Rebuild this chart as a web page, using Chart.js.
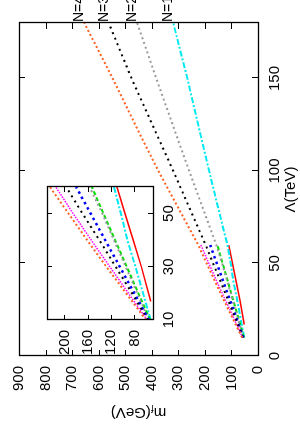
<!DOCTYPE html>
<html>
<head>
<meta charset="utf-8">
<script src="https://cdn.jsdelivr.net/npm/chart.js@4/dist/chart.umd.min.js"></script>
<style>
  html, body { margin: 0; padding: 0; background: #fff; overflow: hidden; }
  #wrap { position: absolute; left: 0; top: 0; width: 427px; height: 300px;
          transform-origin: 0 0; transform: translate(0px, 427px) rotate(-90deg); background: #fff; }
  #main { position: absolute; left: 0; top: 0; }
  #inset { position: absolute; left: 70px; top: 28px; }
</style>
</head>
<body>
<div id="wrap">
  <canvas id="main" width="427" height="300"></canvas>
  <canvas id="inset" width="175" height="152"></canvas>
</div>
<script>
// ---- data ----
const lambdaLong  = [10, 20, 30, 40, 50, 60, 80, 100, 120, 150, 180];
const lambdaShort = [10, 20, 30, 40, 50, 60];
const lambdaRed   = [17, 30, 40, 50, 60];

const n4Orange = [60, 94, 128, 161, 193, 225, 300, 375, 445, 547, 654];
const n3Black  = [57, 84, 112, 140, 169, 197, 258, 319, 382, 476, 562];
const n2Gray   = [55, 75, 95, 115, 135, 157, 208, 259, 309, 383, 455];
const n1Cyan   = [52, 65, 78, 92, 103, 115, 150, 184, 217, 266, 319];
const magentaM = [58, 90, 122, 154, 185, 215];
const blueM    = [55, 80, 105, 130, 155, 180];
const greenM   = [53, 73, 93, 113, 133, 153];
const redM     = [52, 68, 82, 96, 110];

const nLabels = ['N=4', 'N=3', 'N=2', 'N=1'];

const mainXTicks  = [0, 50, 100, 150];
const mainYTicks  = [0, 100, 200, 300, 400, 500, 600, 700, 800, 900];
const insetXTicks = [10, 30, 50];
const insetYTicks = [80, 120, 160, 200];

// ---- styling ----
const FONT = '"Liberation Sans Narrow", "Arial Narrow", "Liberation Sans", Arial, sans-serif';
const tickFont = { family: FONT, size: 15 };

function pts(xs, ys) { return xs.map((x, i) => ({ x: x, y: ys[i] })); }

function makeDatasets() {
  const base = { pointRadius: 0, fill: false, tension: 0, borderCapStyle: 'butt' };
  return [
    Object.assign({}, base, { label: 'N=4', data: pts(lambdaLong, n4Orange), borderColor: '#ff6020', borderWidth: 2, borderDash: [2, 2.5] }),
    Object.assign({}, base, { label: 'magenta', data: pts(lambdaShort, magentaM), borderColor: '#ff00ff', borderWidth: 1.5, borderDash: [1.5, 1.2] }),
    Object.assign({}, base, { label: 'N=3', data: pts(lambdaLong, n3Black), borderColor: '#000000', borderWidth: 2, borderDash: [2, 4] }),
    Object.assign({}, base, { label: 'blue', data: pts(lambdaShort, blueM), borderColor: '#0000ff', borderWidth: 2.5, borderDash: [2.5, 3.5] }),
    Object.assign({}, base, { label: 'N=2', data: pts(lambdaLong, n2Gray), borderColor: '#999999', borderWidth: 2, borderDash: [2, 3] }),
    Object.assign({}, base, { label: 'green', data: pts(lambdaShort, greenM), borderColor: '#00dd00', borderWidth: 2, borderDash: [4, 2.5] }),
    Object.assign({}, base, { label: 'N=1', data: pts(lambdaLong, n1Cyan), borderColor: '#00e8f0', borderWidth: 2, borderDash: [6, 2, 2, 2] }),
    Object.assign({}, base, { label: 'red', data: pts(lambdaRed, redM), borderColor: '#ff0000', borderWidth: 1.5 })
  ];
}

function framePlugin(tickLen, xTicks, yTicks, whiteBg) {
  return {
    id: 'frame' + tickLen,
    beforeDraw(chart) {
      if (!whiteBg) return;
      const a = chart.chartArea, c = chart.ctx;
      c.save(); c.fillStyle = '#fff';
      c.fillRect(a.left, a.top, a.right - a.left, a.bottom - a.top);
      c.restore();
    },
    afterDraw(chart) {
      const a = chart.chartArea, c = chart.ctx;
      const xs = chart.scales.x, ys = chart.scales.y;
      c.save();
      c.strokeStyle = '#000'; c.lineWidth = 1;
      c.beginPath();
      xTicks.forEach(v => {
        const p = Math.round(xs.getPixelForValue(v)) + 0.5;
        c.moveTo(p, a.bottom); c.lineTo(p, a.bottom - tickLen);
        c.moveTo(p, a.top); c.lineTo(p, a.top + tickLen);
      });
      yTicks.forEach(v => {
        const p = Math.round(ys.getPixelForValue(v)) + 0.5;
        c.moveTo(a.left, p); c.lineTo(a.left + tickLen, p);
        c.moveTo(a.right, p); c.lineTo(a.right - tickLen, p);
      });
      c.stroke();
      c.lineWidth = 1.3;
      c.strokeRect(Math.round(a.left) + 0.5, Math.round(a.top) + 0.5,
                   Math.round(a.right - a.left), Math.round(a.bottom - a.top));
      c.restore();
    }
  };
}

const titlesPlugin = {
  id: 'titles',
  afterDraw(chart) {
    const a = chart.chartArea, c = chart.ctx;
    const ys = chart.scales.y;
    c.save();
    c.fillStyle = '#000';
    c.font = '15px ' + FONT;
    // x title
    c.textAlign = 'center'; c.textBaseline = 'middle';
    c.fillText('Λ(TeV)', (a.left + a.right) / 2, 291);
    // y title with subscript
    c.translate(15, (a.top + a.bottom) / 2);
    c.rotate(-Math.PI / 2);
    c.textAlign = 'left'; c.textBaseline = 'middle';
    const big = '15px ' + FONT, small = '10px ' + FONT;
    c.font = big; const w1 = c.measureText('m').width;
    c.font = small; const w2 = c.measureText('f').width;
    c.font = big; const w3 = c.measureText('(GeV)').width;
    let x0 = -(w1 + w2 + w3) / 2;
    c.font = big; c.fillText('m', x0, 0);
    c.font = small; c.fillText('f', x0 + w1, 4);
    c.font = big; c.fillText('(GeV)', x0 + w1 + w2, 0);
    c.restore();
    // N labels at the ends of the long curves
    c.save();
    c.fillStyle = '#000';
    c.font = '14px ' + FONT;
    c.textAlign = 'left'; c.textBaseline = 'alphabetic';
    const ends = [n4Orange, n3Black, n2Gray, n1Cyan];
    nLabels.forEach((t, i) => {
      const arr = ends[i];
      const yv = arr[arr.length - 1];
      c.fillText(t, a.right + 1, ys.getPixelForValue(yv) - 1);
    });
    c.restore();
  }
};

function scaleOpts(min, max, tickArr, fitKey, fitVal, pad) {
  return {
    type: 'linear', min: min, max: max,
    grid: { display: false, drawTicks: false },
    border: { display: false },
    afterBuildTicks: s => { s.ticks = tickArr.map(v => ({ value: v })); },
    afterFit: s => { s[fitKey] = fitVal; },
    ticks: { padding: pad, font: tickFont, color: '#000', maxRotation: 0, autoSkip: false }
  };
}

new Chart(document.getElementById('main'), {
  type: 'line',
  data: { datasets: makeDatasets() },
  options: {
    responsive: false, animation: false, devicePixelRatio: 1,
    layout: { padding: { left: 0, right: 23, top: 17, bottom: 0 } },
    plugins: { legend: { display: false }, tooltip: { enabled: false } },
    scales: {
      x: scaleOpts(0, 180, mainXTicks, 'height', 42, 8),
      y: scaleOpts(0, 900, mainYTicks, 'width', 71, 10)
    }
  },
  plugins: [framePlugin(6, mainXTicks, mainYTicks, false), titlesPlugin]
});

new Chart(document.getElementById('inset'), {
  type: 'line',
  data: { datasets: makeDatasets() },
  options: {
    responsive: false, animation: false, devicePixelRatio: 1,
    layout: { padding: { left: 0, right: 5, top: 4, bottom: 0 } },
    plugins: { legend: { display: false }, tooltip: { enabled: false } },
    scales: {
      x: scaleOpts(10, 60, insetXTicks, 'height', 27, 7),
      y: scaleOpts(48, 230, insetYTicks, 'width', 37, 10)
    }
  },
  plugins: [framePlugin(5, insetXTicks, insetYTicks, true)]
});
</script>
</body>
</html>
